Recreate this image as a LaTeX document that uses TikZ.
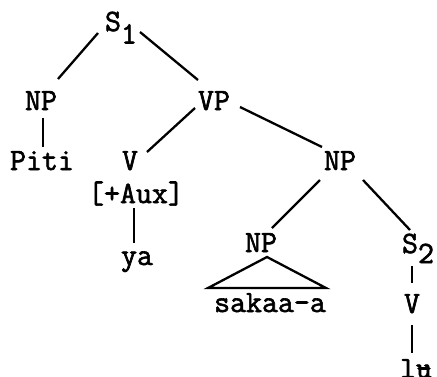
\documentclass[tikz,border=0pt]{standalone}
\usepackage{fontspec}
\newfontfamily\typew{Latin Modern Mono}[FakeBold=2]
\usetikzlibrary{calc}
% barred u, typed as u overstruck with a hyphen
\newcommand\baru{\rlap{u}-}
\begin{document}
\begin{tikzpicture}[x=1pt,y=-1pt,
  lbl/.style={anchor=base,inner sep=0pt,font=\typew\fontsize{31}{36}\selectfont},
  branch/.style={line width=2.3pt}]
\useasboundingbox (0,0) rectangle (437,376);
% category labels and words
\node[lbl] (s1)   at (121,31)  {S\raisebox{-12.5pt}{1}};
\node[lbl] (np1)  at (41,110)  {NP};
\node[lbl] (vp)   at (214,110) {VP};
\node[lbl] (piti) at (42,170)  {Piti};
\node[lbl] (v1)   at (130,170) {V};
\node[lbl] (aux)  at (136,203) {[+Aux]};
\node[lbl] (ya)   at (137,265) {ya};
\node[lbl] (np2)  at (340,170) {NP};
\node[lbl] (np3)  at (261,252) {NP};
\node[lbl] (sak)  at (270,312) {sakaa-a};
\node[lbl] (s2)   at (418,253) {S\raisebox{-10pt}{2}};
\node[lbl] (v2)   at (412,313) {V};
\node[lbl] (lu)   at (416,378) {l\baru};
% branches
\draw[branch] ($(s1.base)+(-23,2)$)  -- ($(np1.base)+(17,-31)$);
\draw[branch] ($(s1.base)+(19,1)$)   -- ($(vp.base)+(-16,-30)$);
\draw[branch] ($(np1.base)+(2,8)$)   -- ($(piti.base)+(1,-23)$);
\draw[branch] ($(vp.base)+(-19,-2)$) -- ($(v1.base)+(17,-18)$);
\draw[branch] ($(vp.base)+(26,-3)$)  -- ($(np2.base)+(-18,-23)$);
\draw[branch] ($(aux.base)+(-2,5)$)  -- ($(ya.base)+(-3,-22)$);
\draw[branch] ($(np2.base)+(-20,10)$) -- ($(np3.base)+(11,-24)$);
\draw[branch] ($(np2.base)+(23,10)$) -- ($(s2.base)+(-8,-23)$);
\draw[branch,line join=miter] ($(np3.base)+(6,5)$) -- ($(np3.base)+(-53,36)$)
  -- ($(np3.base)+(65,36)$) -- cycle;
\draw[branch] ($(s2.base)+(-6,13)$)  -- ($(v2.base)+(0,-30)$);
\draw[branch] ($(v2.base)+(0,12)$)   -- ($(lu.base)+(-4,-25)$);
\end{tikzpicture}
\end{document}
